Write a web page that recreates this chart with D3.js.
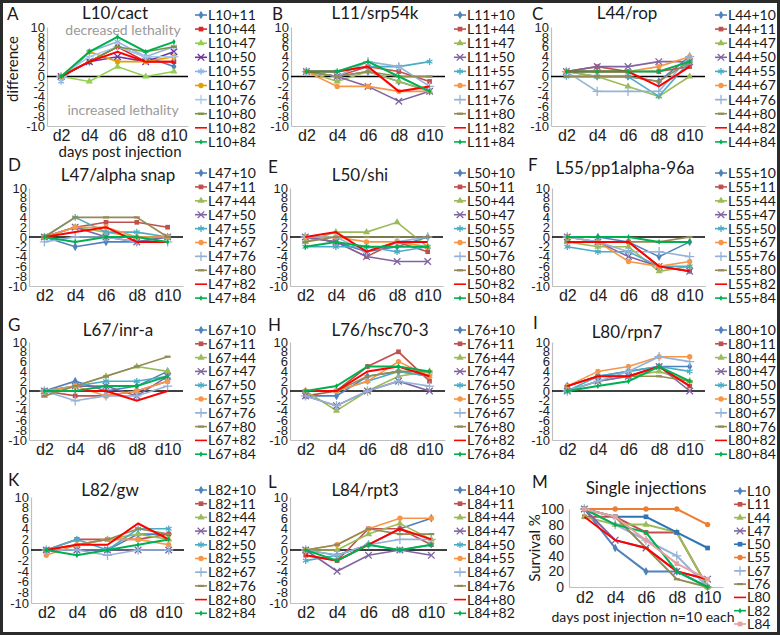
<!DOCTYPE html>
<html>
<head>
<meta charset="utf-8">
<script src="https://cdn.jsdelivr.net/npm/d3@7"></script>
<style>
body { margin: 0; background: #fff; }
svg { display: block; font-family: Lato, "Open Sans", sans-serif; }
.axis path { stroke: #bfbfbf; stroke-width: 1.2; }
.axis text { fill: #222; }
</style>
</head>
<body>
<div id="chart"></div>
<script>
var days = ["d2", "d4", "d6", "d8", "d10"];
var diffTicks = [10, 8, 6, 4, 2, 0, -2, -4, -6, -8, -10];
var survivalTicks = [100, 80, 60, 40, 20, 0];

// A - L10/cact
var namesA = ["L10+11", "L10+44", "L10+47", "L10+50", "L10+55", "L10+67", "L10+76", "L10+80", "L10+82", "L10+84"];
var valuesA = [
    [0, 3, 6, 4, 2], [0, 3, 6, 3, 3], [0, -1, 2, 0, 1], [0, 3, 4, 3, 5], [-1, 5, 7, 4, 6],
    [0, 5, 3, 3, 4], [0, 4, 6, 4, 4], [0, 3, 6, 5, 6], [0, 3, 5, 3, 3], [0, 5, 8, 5, 7]
];
// B - L11/srp54k
var namesB = ["L11+10", "L11+44", "L11+47", "L11+50", "L11+55", "L11+67", "L11+76", "L11+80", "L11+82", "L11+84"];
var valuesB = [
    [1, 0, 1, -1, -3], [1, 0, 2, 1, -1], [1, -1, 1, -1, -3], [1, 0, -2, -5, -3], [1, 1, 2, 2, 3],
    [1, -2, -2, -3, -3], [1, 0, 3, 2, -2], [1, 0, 1, 0, 0], [1, 1, 2, -3, -2], [1, 1, 3, 0, -3]
];
// C - L44/rop
var namesC = ["L44+10", "L44+11", "L44+47", "L44+50", "L44+55", "L44+67", "L44+76", "L44+80", "L44+82", "L44+84"];
var valuesC = [
    [1, 0, 0, -1, 4], [1, 2, 1, 1, 2], [1, 0, -2, -4, 0], [1, 2, 2, 3, 3], [0, 0, 0, -4, 3],
    [1, 1, 1, 2, 4], [1, -3, -3, -3, 4], [0, 0, 0, -1, 3], [1, 1, 1, -2, 2], [1, 1, 1, 1, 3]
];
// D - L47/alpha snap
var namesD = ["L47+10", "L47+11", "L47+44", "L47+50", "L47+55", "L47+67", "L47+76", "L47+80", "L47+82", "L47+84"];
var valuesD = [
    [0, -2, -1, -1, 0], [0, 2, 3, 3, 2], [0, 2, 1, 0, 0], [0, 2, 0, -1, 0], [0, 4, 1, 1, 0],
    [0, 2, 2, 0, 0], [-1, 0, 0, -1, -1], [0, 4, 4, 4, 0], [0, 1, 2, -1, -1], [0, -1, 0, 0, -1]
];
// E - L50/shi
var namesE = ["L50+10", "L50+11", "L50+44", "L50+47", "L50+55", "L50+67", "L50+76", "L50+80", "L50+82", "L50+84"];
var valuesE = [
    [0, -1, -3, -2, 0], [0, -1, -4, -1, -3], [-1, 1, 1, 3, -2], [0, -1, -4, -5, -5], [-2, -2, -2, -3, -2],
    [0, 0, -1, -1, -2], [0, 0, -3, -1, 0], [-1, 0, 0, 0, 0], [0, 1, -3, -1, -1], [-2, -1, -2, -2, -2]
];
// F - L55/pp1alpha-96a
var namesF = ["L55+10", "L55+11", "L55+44", "L55+47", "L55+50", "L55+67", "L55+76", "L55+80", "L55+82", "L55+84"];
var valuesF = [
    [0, 0, -1, -4, -1], [-1, -1, -1, -6, -7], [-1, -2, -2, -7, -6], [0, -1, -4, -6, -7], [-2, -3, -3, -6, -6],
    [0, -1, -5, -6, -5], [0, -1, -3, -3, -4], [-1, -1, -1, -1, 0], [-1, -1, -1, -6, -7], [0, 0, 0, -1, -1]
];
// G - L67/inr-a
var namesG = ["L67+10", "L67+11", "L67+44", "L67+47", "L67+50", "L67+55", "L67+76", "L67+80", "L67+82", "L67+84"];
var valuesG = [
    [0, 2, 0, 1, 4], [0, -1, -1, 0, 2], [-1, 1, 3, 5, 4], [0, 1, 1, -1, 3], [0, 1, 2, 2, 3],
    [0, 1, -1, 0, 2], [0, -2, -1, -1, 1], [-1, 1, 3, 5, 7], [0, 0, 0, -2, 0], [0, 0, 1, 1, 3]
];
// H - L76/hsc70-3
var namesH = ["L76+10", "L76+11", "L76+44", "L76+47", "L76+50", "L76+55", "L76+67", "L76+80", "L76+82", "L76+84"];
var valuesH = [
    [-1, -1, 3, 4, 3], [-1, 0, 5, 8, 2], [0, -4, 0, 3, 4], [-1, -3, 0, 2, 0], [0, 0, 2, 4, 3],
    [0, 0, 2, 6, 3], [-1, -3, 0, 2, 1], [0, 0, 3, 4, 4], [0, 0, 4, 5, 3], [0, 1, 5, 5, 4]
];
// I - L80/rpn7
var namesI = ["L80+10", "L80+11", "L80+44", "L80+47", "L80+50", "L80+55", "L80+67", "L80+76", "L80+82", "L80+84"];
var valuesI = [
    [1, 3, 4, 5, 5], [1, 3, 3, 5, 1], [0, 2, 3, 4, 2], [0, 2, 3, 5, 0], [0, 3, 4, 5, 4],
    [1, 4, 5, 7, 7], [0, 2, 4, 7, 6], [1, 3, 3, 3, 2], [1, 3, 3, 5, 1], [0, 1, 2, 5, 2]
];
// K - L82/gw
var namesK = ["L82+10", "L82+11", "L82+44", "L82+47", "L82+50", "L82+55", "L82+67", "L82+76", "L82+80", "L82+84"];
var valuesK = [
    [0, 0, 0, 3, 3], [0, 2, 2, 2, 3], [0, 1, 2, 3, 2], [0, 0, 0, 0, 0], [0, 2, 0, 4, 4],
    [-1, 1, 2, 2, 1], [0, 0, -1, 0, 0], [0, 1, 2, 4, 3], [0, 1, 1, 5, 2], [0, -1, 0, 1, 2]
];
// L - L84/rpt3
var namesL = ["L84+10", "L84+11", "L84+44", "L84+47", "L84+50", "L84+55", "L84+67", "L84+76", "L84+80", "L84+82"];
var valuesL = [
    [0, -1, 1, 4, 6], [-1, -2, 4, 4, 1], [0, 0, 3, 5, 2], [0, -4, -1, 0, -1], [-2, -1, 1, 0, 1],
    [0, 1, 4, 6, 6], [0, -1, 1, 2, 2], [0, 1, 4, 3, 3], [-1, -2, 1, 4, 2], [0, -2, 1, 0, 1]
];
// M - single injections, survival %
var namesM = ["L10", "L11", "L44", "L47", "L50", "L55", "L67", "L76", "L80", "L82", "L84"];
var valuesM = [
    [100, 50, 20, 20, 0], [90, 90, 70, 70, 0], [90, 80, 80, 70, 0], [100, 60, 50, 20, 10],
    [100, 90, 90, 70, 50], [100, 100, 100, 100, 80], [100, 80, 60, 40, 0], [100, 90, 50, 10, 0],
    [90, 60, 50, 20, 10], [100, 80, 70, 20, 0], [100, 90, 60, 30, 10]
];

var palette = ["#4F81BD", "#C0504D", "#9BBB59", "#8064A2", "#4BACC6", "#F79646", "#95B3D7", "#948A54", "#FF0000", "#00B050"];
var paletteA = ["#4F81BD", "#E02424", "#92D050", "#7030A0", "#8EB4E3", "#E0A000", "#A9CBEA", "#77933C", "#FF0000", "#00B050"];
var markers = ["diamond", "square", "triangle", "times", "asterisk", "circle", "plus", "dash", "none", "small"];
var colorsM = ["#4F81BD", "#C0504D", "#9BBB59", "#8064A2", "#2E75B6", "#ED7D31", "#95B3D7", "#948A54", "#FF0000", "#00B050", "#E6A0A0"];
var markersM = ["diamond", "square", "triangle", "times", "square", "circle", "plus", "dash", "none", "small", "square"];

var w = 780, h = 635;
var svg = d3.select("#chart").append("svg").attr("width", w).attr("height", h);

function addMarker(g, type, color, cx, cy) {
    if (type === "none") return;
    if (type === "dash") {
        g.append("line").attr("x1", cx - 3).attr("x2", cx + 3).attr("y1", cy).attr("y2", cy)
            .attr("stroke", color).attr("stroke-width", 2.2);
        return;
    }
    var types = {
        diamond: d3.symbolDiamond, square: d3.symbolSquare, triangle: d3.symbolTriangle,
        times: d3.symbolTimes || d3.symbolX || d3.symbolCross, asterisk: d3.symbolAsterisk || d3.symbolStar,
        circle: d3.symbolCircle, plus: d3.symbolPlus || d3.symbolCross, small: d3.symbolDiamond
    };
    var stroked = (type === "times" || type === "asterisk" || type === "plus") && d3.symbolPlus;
    var size = type === "small" ? 10 : (stroked ? 30 : 22);
    g.append("path")
        .attr("d", d3.symbol().type(types[type]).size(size))
        .attr("transform", "translate(" + cx + "," + cy + ")")
        .attr("fill", stroked ? "none" : color)
        .attr("stroke", stroked ? color : "none")
        .attr("stroke-width", 1.3);
}

function drawLegend(g, names, colors, marks, lx, ly, step, fs) {
    names.forEach(function(n, i) {
        var yy = ly + i * step;
        g.append("line").attr("x1", lx).attr("x2", lx + 12).attr("y1", yy).attr("y2", yy)
            .attr("stroke", colors[i]).attr("stroke-width", 1.6);
        addMarker(g, marks[i], colors[i], lx + 6, yy);
        g.append("text").attr("x", lx + 13).attr("y", yy).attr("dy", "0.35em")
            .attr("font-size", fs).attr("fill", "#1a1a1a").text(n);
    });
}

function drawDiffPanel(p) {
    var g = svg.append("g");
    var x = d3.scalePoint().domain(days).range([p.x0, p.x1]).padding(0.5);
    var y = d3.scaleLinear().domain([-10, 10]).range([p.yb, p.yt]);
    var colors = p.colors || palette;

    g.append("g").attr("class", "axis").attr("transform", "translate(" + p.x0 + ",0)")
        .call(d3.axisLeft(y).tickValues(diffTicks).tickSize(0).tickSizeOuter(0).tickPadding(2).tickFormat(String))
        .call(function(a) { a.selectAll("text").attr("font-size", 13).attr("font-family", null); });

    g.append("g").attr("class", "axis").attr("transform", "translate(0," + p.yb + ")")
        .call(d3.axisBottom(x).tickSize(0).tickSizeOuter(0).tickPadding(4))
        .call(function(a) { a.selectAll("text").attr("font-size", 16).attr("font-family", null); });

    g.append("line").attr("x1", p.x0).attr("x2", p.x1).attr("y1", y(0)).attr("y2", y(0))
        .attr("stroke", "#000").attr("stroke-width", 1.5);

    var line = d3.line().x(function(d, i) { return x(days[i]); }).y(function(d) { return y(d); });
    p.values.forEach(function(vals, i) {
        g.append("path").attr("d", line(vals)).attr("fill", "none")
            .attr("stroke", colors[i]).attr("stroke-width", i >= 8 ? 2 : 1.6);
        vals.forEach(function(v, j) { addMarker(g, markers[i], colors[i], x(days[j]), y(v)); });
    });

    g.append("text").attr("x", p.letterX).attr("y", p.letterY)
        .attr("dy", "0.35em").attr("font-size", 17).attr("fill", "#1a1a1a").text(p.letter);
    g.append("text").attr("x", p.titleX).attr("y", p.titleY).attr("dy", "0.35em")
        .attr("text-anchor", "middle").attr("font-size", 17).attr("fill", "#1a1a1a").text(p.title);

    drawLegend(g, p.names, colors, markers, p.lx, p.ly, p.step, 14);
}

var panels = [
    { letter: "A", title: "L10/cact", names: namesA, values: valuesA, colors: paletteA, x0: 47, x1: 188, yt: 27, yb: 126, letterX: 7, letterY: 14, titleX: 115, titleY: 13, lx: 195, ly: 15, step: 14.1 },
    { letter: "B", title: "L11/srp54k", names: namesB, values: valuesB, x0: 291, x1: 445, yt: 27, yb: 126, letterX: 272, letterY: 14, titleX: 375, titleY: 13, lx: 454, ly: 15, step: 14.1 },
    { letter: "C", title: "L44/rop", names: namesC, values: valuesC, x0: 551, x1: 705, yt: 27, yb: 126, letterX: 532, letterY: 14, titleX: 627, titleY: 13, lx: 715, ly: 15, step: 14.1 },
    { letter: "D", title: "L47/alpha snap", names: namesD, values: valuesD, x0: 29, x1: 183, yt: 188, yb: 286, letterX: 8, letterY: 165, titleX: 118, titleY: 175, lx: 195, ly: 173, step: 13.9 },
    { letter: "E", title: "L50/shi", names: namesE, values: valuesE, x0: 290, x1: 443, yt: 188, yb: 286, letterX: 268, letterY: 167, titleX: 360, titleY: 175, lx: 454, ly: 173, step: 13.9 },
    { letter: "F", title: "L55/pp1alpha-96a", names: namesF, values: valuesF, x0: 552, x1: 705, yt: 188, yb: 286, letterX: 528, letterY: 165, titleX: 625, titleY: 168, lx: 715, ly: 173, step: 13.9 },
    { letter: "G", title: "L67/inr-a", names: namesG, values: valuesG, x0: 29, x1: 183, yt: 342, yb: 440, letterX: 8, letterY: 325, titleX: 118, titleY: 330, lx: 195, ly: 330, step: 13.8 },
    { letter: "H", title: "L76/hsc70-3", names: namesH, values: valuesH, x0: 290, x1: 445, yt: 342, yb: 440, letterX: 268, letterY: 325, titleX: 380, titleY: 330, lx: 454, ly: 330, step: 13.8 },
    { letter: "I", title: "L80/rpn7", names: namesI, values: valuesI, x0: 552, x1: 705, yt: 342, yb: 440, letterX: 533, letterY: 323, titleX: 627, titleY: 332, lx: 715, ly: 330, step: 13.8 },
    { letter: "K", title: "L82/gw", names: namesK, values: valuesK, x0: 31, x1: 184, yt: 497, yb: 603, letterX: 8, letterY: 480, titleX: 110, titleY: 490, lx: 195, ly: 490, step: 13.7 },
    { letter: "L", title: "L84/rpt3", names: namesL, values: valuesL, x0: 290, x1: 447, yt: 497, yb: 603, letterX: 268, letterY: 482, titleX: 365, titleY: 490, lx: 454, ly: 490, step: 13.7 }
];

panels.forEach(drawDiffPanel);

// panel A extras
svg.append("text").attr("transform", "translate(13,69) rotate(-90)").attr("text-anchor", "middle")
    .attr("dy", "0.35em").attr("font-size", 15).attr("fill", "#1a1a1a").text("difference");
svg.append("text").attr("x", 123).attr("y", 30).attr("dy", "0.35em").attr("text-anchor", "middle")
    .attr("font-size", 14).attr("fill", "#9a9a9a").text("decreased lethality");
svg.append("text").attr("x", 123).attr("y", 110).attr("dy", "0.35em").attr("text-anchor", "middle")
    .attr("font-size", 14).attr("fill", "#9a9a9a").text("increased lethality");
svg.append("text").attr("x", 120).attr("y", 152).attr("dy", "0.35em").attr("text-anchor", "middle")
    .attr("font-size", 15).attr("fill", "#1a1a1a").text("days post injection");

// panel M
var mx = d3.scalePoint().domain(days).range([569, 723]).padding(0.5);
var my = d3.scaleLinear().domain([0, 100]).range([587, 509]);
var gm = svg.append("g");
gm.append("g").attr("class", "axis").attr("transform", "translate(569,0)")
    .call(d3.axisLeft(my).tickValues(survivalTicks).tickSize(0).tickSizeOuter(0).tickPadding(5))
    .call(function(a) { a.selectAll("text").attr("font-size", 14).attr("font-family", null); });
gm.append("g").attr("class", "axis").attr("transform", "translate(0,587)")
    .call(d3.axisBottom(mx).tickSize(0).tickSizeOuter(0).tickPadding(5))
    .call(function(a) { a.selectAll("text").attr("font-size", 16).attr("font-family", null); });

var mline = d3.line().x(function(d, i) { return mx(days[i]); }).y(function(d) { return my(d); });
valuesM.forEach(function(vals, i) {
    gm.append("path").attr("d", mline(vals)).attr("fill", "none")
        .attr("stroke", colorsM[i]).attr("stroke-width", 2);
    vals.forEach(function(v, j) { addMarker(gm, markersM[i], colorsM[i], mx(days[j]), my(v)); });
});
gm.append("text").attr("x", 532).attr("y", 482).attr("dy", "0.35em").attr("font-size", 17).attr("fill", "#1a1a1a").text("M");
gm.append("text").attr("x", 646).attr("y", 488).attr("dy", "0.35em").attr("text-anchor", "middle")
    .attr("font-size", 17).attr("fill", "#1a1a1a").text("Single injections");
gm.append("text").attr("transform", "translate(535,548) rotate(-90)").attr("text-anchor", "middle")
    .attr("dy", "0.35em").attr("font-size", 15).attr("fill", "#1a1a1a").text("Survival %");
gm.append("text").attr("x", 643).attr("y", 617).attr("dy", "0.35em").attr("text-anchor", "middle")
    .attr("font-size", 14).attr("fill", "#1a1a1a").text("days post injection n=10 each");
drawLegend(gm, namesM, colorsM, markersM, 734, 491, 13.3, 14);

// frame
svg.append("rect").attr("x", 1.5).attr("y", 1.5).attr("width", w - 3).attr("height", h - 3)
    .attr("fill", "none").attr("stroke", "#2b2b2b").attr("stroke-width", 3);
</script>
</body>
</html>
